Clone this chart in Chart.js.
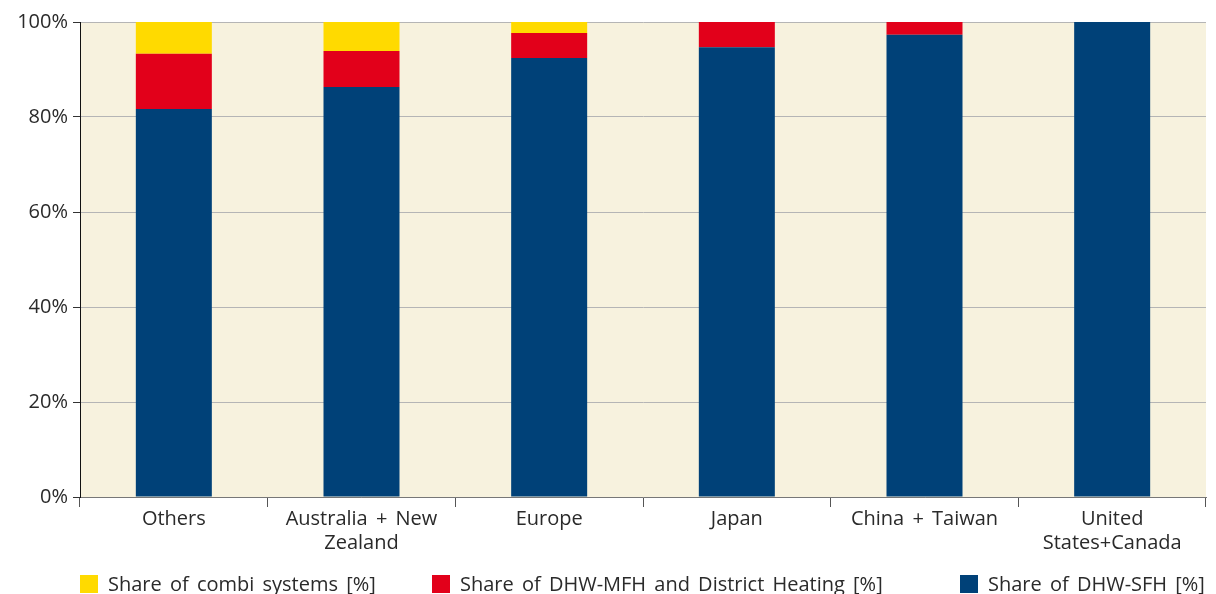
<!DOCTYPE html>
<html>
<head>
<meta charset="utf-8">
<script src="https://cdn.jsdelivr.net/npm/chart.js@4"></script>
<style>
  html, body { margin: 0; padding: 0; background: #fff; }
  #wrap { position: relative; width: 1216px; height: 594px; }
  #legend {
    position: absolute; left: 0; right: 0; top: 570px; height: 26px;
    font-family: "Open Sans", sans-serif; font-size: 20px; word-spacing: 3px; color: #2a2a2a;
  }
  #legend span.item { position: absolute; top: 0; display: flex; align-items: center; white-space: nowrap; }
  #legend span.box { width: 18px; height: 18px; margin-right: 10px; display: inline-block; }
</style>
</head>
<body>
<div id="wrap">
  <canvas id="chart" width="1216" height="594"></canvas>
  <div id="legend"></div>
</div>
<script>
const categories = ['Others', ['Australia + New', 'Zealand'], 'Europe', 'Japan', 'China + Taiwan', ['United', 'States+Canada']];
const sfh = [81.7, 86.3, 92.4, 94.7, 97.3, 100];
const mfh = [11.6, 7.6, 5.3, 5.3, 2.7, 0];
const combi = [6.7, 6.1, 2.3, 0, 0, 0];
const yTicks = [0, 20, 40, 60, 80, 100];

const colors = { combi: '#FFDA00', mfh: '#E2001A', sfh: '#004178' };
const tickFont = { family: 'Open Sans', size: 20 };

// plot background + a bit wider word spacing for canvas text
const plotBg = {
  id: 'plotBg',
  beforeLayout(chart) { chart.ctx.wordSpacing = '3px'; },
  beforeDraw(chart) {
    const { ctx, chartArea: { left, top, right, bottom } } = chart;
    ctx.wordSpacing = '3px';
    ctx.save();
    ctx.fillStyle = '#F7F2DE';
    ctx.fillRect(left, top, right - left, bottom - top);
    ctx.restore();
  }
};

const ctx = document.getElementById('chart').getContext('2d');
new Chart(ctx, {
  type: 'bar',
  plugins: [plotBg],
  data: {
    labels: categories,
    datasets: [
      { label: 'Share of DHW-SFH [%]', data: sfh, backgroundColor: colors.sfh },
      { label: 'Share of DHW-MFH and District Heating [%]', data: mfh, backgroundColor: colors.mfh },
      { label: 'Share of combi systems [%]', data: combi, backgroundColor: colors.combi }
    ]
  },
  options: {
    responsive: false,
    animation: false,
    layout: { padding: { top: 22, right: 10, bottom: 0, left: 0 } },
    datasets: { bar: { categoryPercentage: 0.405, barPercentage: 1 } },
    plugins: {
      legend: { display: false },
      tooltip: { enabled: false }
    },
    scales: {
      x: {
        stacked: true,
        afterFit(scale) { scale.height = 97; },
        grid: { offset: true, drawOnChartArea: false, tickLength: 10, color: '#555' },
        border: { color: '#777' },
        ticks: { color: '#2a2a2a', font: tickFont, padding: 0 }
      },
      y: {
        stacked: true,
        min: 0,
        max: 100,
        afterFit(scale) { scale.width = 80; },
        afterBuildTicks(scale) { scale.ticks = yTicks.map(v => ({ value: v })); },
        grid: { color: '#B5B5B5', tickColor: '#333', tickLength: 7 },
        border: { color: '#111' },
        ticks: {
          color: '#2a2a2a',
          font: tickFont,
          padding: 5,
          callback: v => v + '%'
        }
      }
    }
  }
});

// legend (positions)
const legendItems = [
  ['Share of combi systems [%]', colors.combi, 80],
  ['Share of DHW-MFH and District Heating [%]', colors.mfh, 432],
  ['Share of DHW-SFH [%]', colors.sfh, 960]
];
document.getElementById('legend').innerHTML = legendItems
  .map(([t, c, x]) => `<span class="item" style="left:${x}px"><span class="box" style="background:${c}"></span>${t}</span>`)
  .join('');
</script>
</body>
</html>
